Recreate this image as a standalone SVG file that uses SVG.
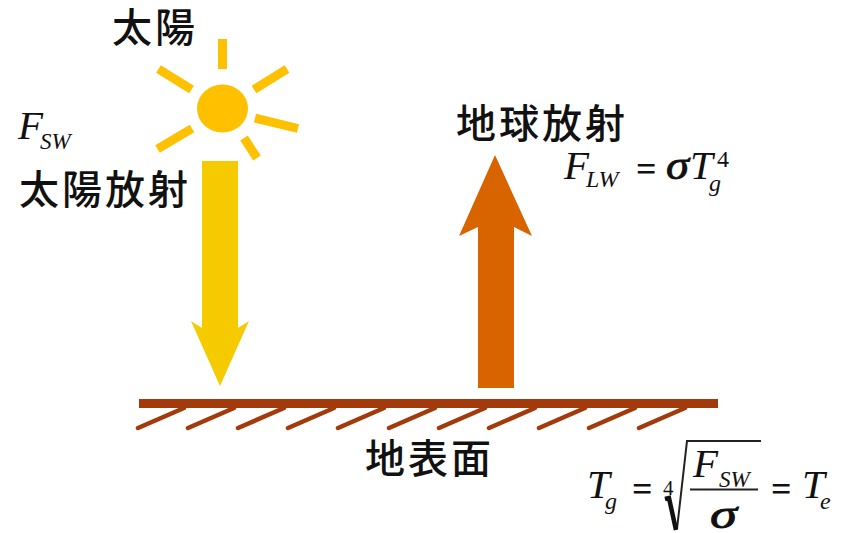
<svg xmlns="http://www.w3.org/2000/svg" width="852" height="533" viewBox="0 0 852 533">
<style>
.jp{font-family:"Noto Sans CJK JP","Noto Sans CJK SC",sans-serif;font-size:40px;font-weight:500;letter-spacing:3px;fill:#111}
.m{font-family:"Liberation Serif","Times New Roman",serif;font-style:italic;fill:#111}
.u{font-family:"Liberation Serif","Times New Roman",serif;fill:#111}
.eq{font-family:"Liberation Serif","Times New Roman",serif;font-weight:bold;font-size:36px;fill:#111}
.sg{font-family:"Liberation Serif","Times New Roman",serif;font-style:italic;fill:#111;stroke:#111;stroke-width:.8}
.ray{stroke:#ffc000;stroke-width:9;fill:none}
.tick{stroke:#a33a0c;stroke-width:4.5;stroke-linecap:round;fill:none}
</style>
<rect width="852" height="533" fill="#fff"/>
<g id="sun">
<ellipse cx="222.5" cy="108.5" rx="25.5" ry="24" fill="#ffc000"/>
<path class="ray" d="M222.5 39V69M158.500 69L191.500 89.500M287 69L254 89.500M255 118L298 128.500M192 128.500L157.500 149M244 138L257 158"/>
</g>
<g id="connectors">
<polygon id="solar-arrow" fill="#f5cb00" points="202,161 238,161 238,328 249,321 220,386 191,321 202,328"/>
<polygon id="earth-arrow" fill="#d86400" points="478,388 514,388 514,227 532,236 495,155 459,236 478,227"/>
</g>
<g id="ground">
<rect x="139" y="399" width="579" height="9" fill="#a33a0c"/>
<path class="tick" d="M138 428L184 408M188 428L234 408M238 428L284 408M288 428L334 408M338 428L384 408M389 428L435 408M439 428L485 408M489 428L535 408M539 428L585 408M589 428L635 408M639 428L685 408"/>
</g>
<g id="label-sun"><text class="jp" x="112" y="42">太陽</text></g>
<g id="label-solar-radiation"><text class="jp" x="19" y="204">太陽放射</text></g>
<g id="label-earth-radiation"><text class="jp" x="456" y="138">地球放射</text></g>
<g id="label-surface"><text class="jp" x="365" y="473">地表面</text></g>
<g id="formula-fsw">
<text class="m" x="18" y="139" font-size="41">F</text>
<text class="m" x="40" y="149" font-size="23">SW</text>
</g>
<g id="formula-flw">
<text class="m" x="564" y="179" font-size="41">F</text>
<text class="m" x="586" y="187" font-size="24">LW</text>
<text class="eq" x="636" y="181">=</text>
<text class="sg" x="666" y="179" font-size="41" textLength="23" lengthAdjust="spacingAndGlyphs">σ</text>
<text class="m" x="690" y="179" font-size="41">T</text>
<text class="u" x="717" y="167" font-size="24">4</text>
<text class="m" x="709" y="191" font-size="24">g</text>
</g>
<g id="formula-tg">
<text class="m" x="587" y="498" font-size="41">T</text>
<text class="m" x="605" y="509" font-size="24">g</text>
<text class="eq" x="632" y="501">=</text>
<text class="u" x="663" y="495" font-size="21">4</text>
<path d="M665 499L668 498L677 529L687 441H761" fill="none" stroke="#222" stroke-width="2"/>
<path d="M665 499L669 498L676 530" fill="none" stroke="#111" stroke-width="4.500"/>
<text class="m" x="693" y="477" font-size="41">F</text>
<text class="m" x="719" y="487" font-size="23">SW</text>
<rect x="690" y="488.500" width="68" height="2" fill="#222"/>
<text class="sg" x="710" y="528" font-size="41" textLength="27" lengthAdjust="spacingAndGlyphs">σ</text>
<text class="eq" x="771" y="501">=</text>
<text class="m" x="802" y="498" font-size="41">T</text>
<text class="m" x="820" y="509" font-size="24">e</text>
</g>
</svg>
